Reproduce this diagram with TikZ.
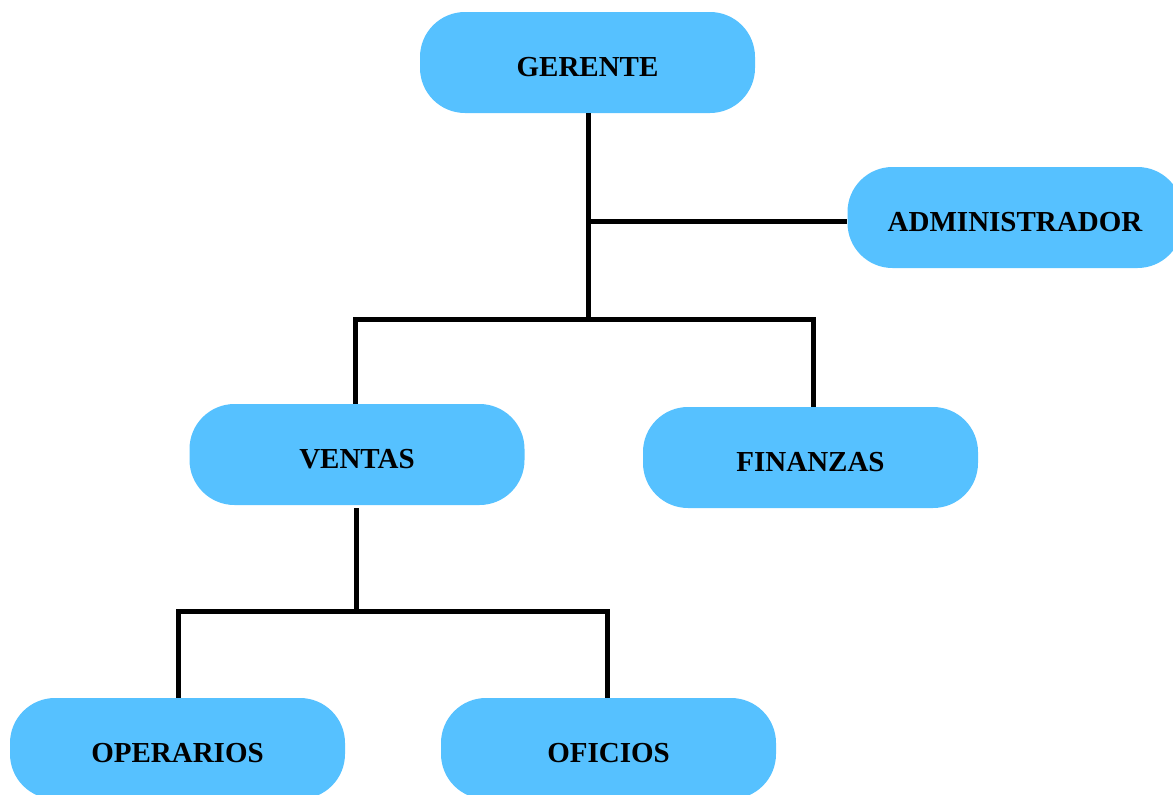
\documentclass[tikz,border=0pt]{standalone}
\usepackage{fontspec}
\setmainfont{Liberation Serif}
\definecolor{boxblue}{HTML}{56C1FF}
\begin{document}
\begin{tikzpicture}[x=1pt,y=-1pt,
  orgbox/.style={rectangle, fill=boxblue, draw=none, rounded corners=45pt,
    minimum width=335pt, minimum height=101pt, inner sep=0pt,
    font=\fontsize{29}{34}\selectfont\bfseries, text height=27pt, text depth=0pt},
  link/.style={line width=5pt, draw=black, line join=miter}]
\useasboundingbox (0,0) rectangle (1173,795);
\node[orgbox] (ger) at (587.5,62.5) {GERENTE};
\node[orgbox] (adm) at (1015,217.5) {ADMINISTRADOR};
\node[orgbox] (ven) at (357,454.5) {VENTAS};
\node[orgbox] (fin) at (810.5,457.5) {FINANZAS};
\node[orgbox] (ope) at (177.5,748.5) {OPERARIOS};
\node[orgbox] (ofi) at (608.5,748.5) {OFICIOS};
\coordinate (jm) at (588,319);
\coordinate (ja) at (588,221);
\coordinate (jv) at (355,319);
\coordinate (jf) at (813,319);
\coordinate (jl) at (178,611);
\coordinate (jr) at (607,611);
\coordinate (jb) at (356,611);
\draw[link] (ger.south -| jm) -- (jm);
\draw[link] (ja) -- (ja -| adm.west);
\draw[link] (jv |- ven.north) -- (jv) -- (jf) -- (jf |- fin.north);
\draw[link] ([yshift=-3pt]ven.south -| jb) -- (jb);
\draw[link] (jl |- ope.north) -- (jl) -- (jr) -- (jr |- ofi.north);
\end{tikzpicture}
\end{document}
